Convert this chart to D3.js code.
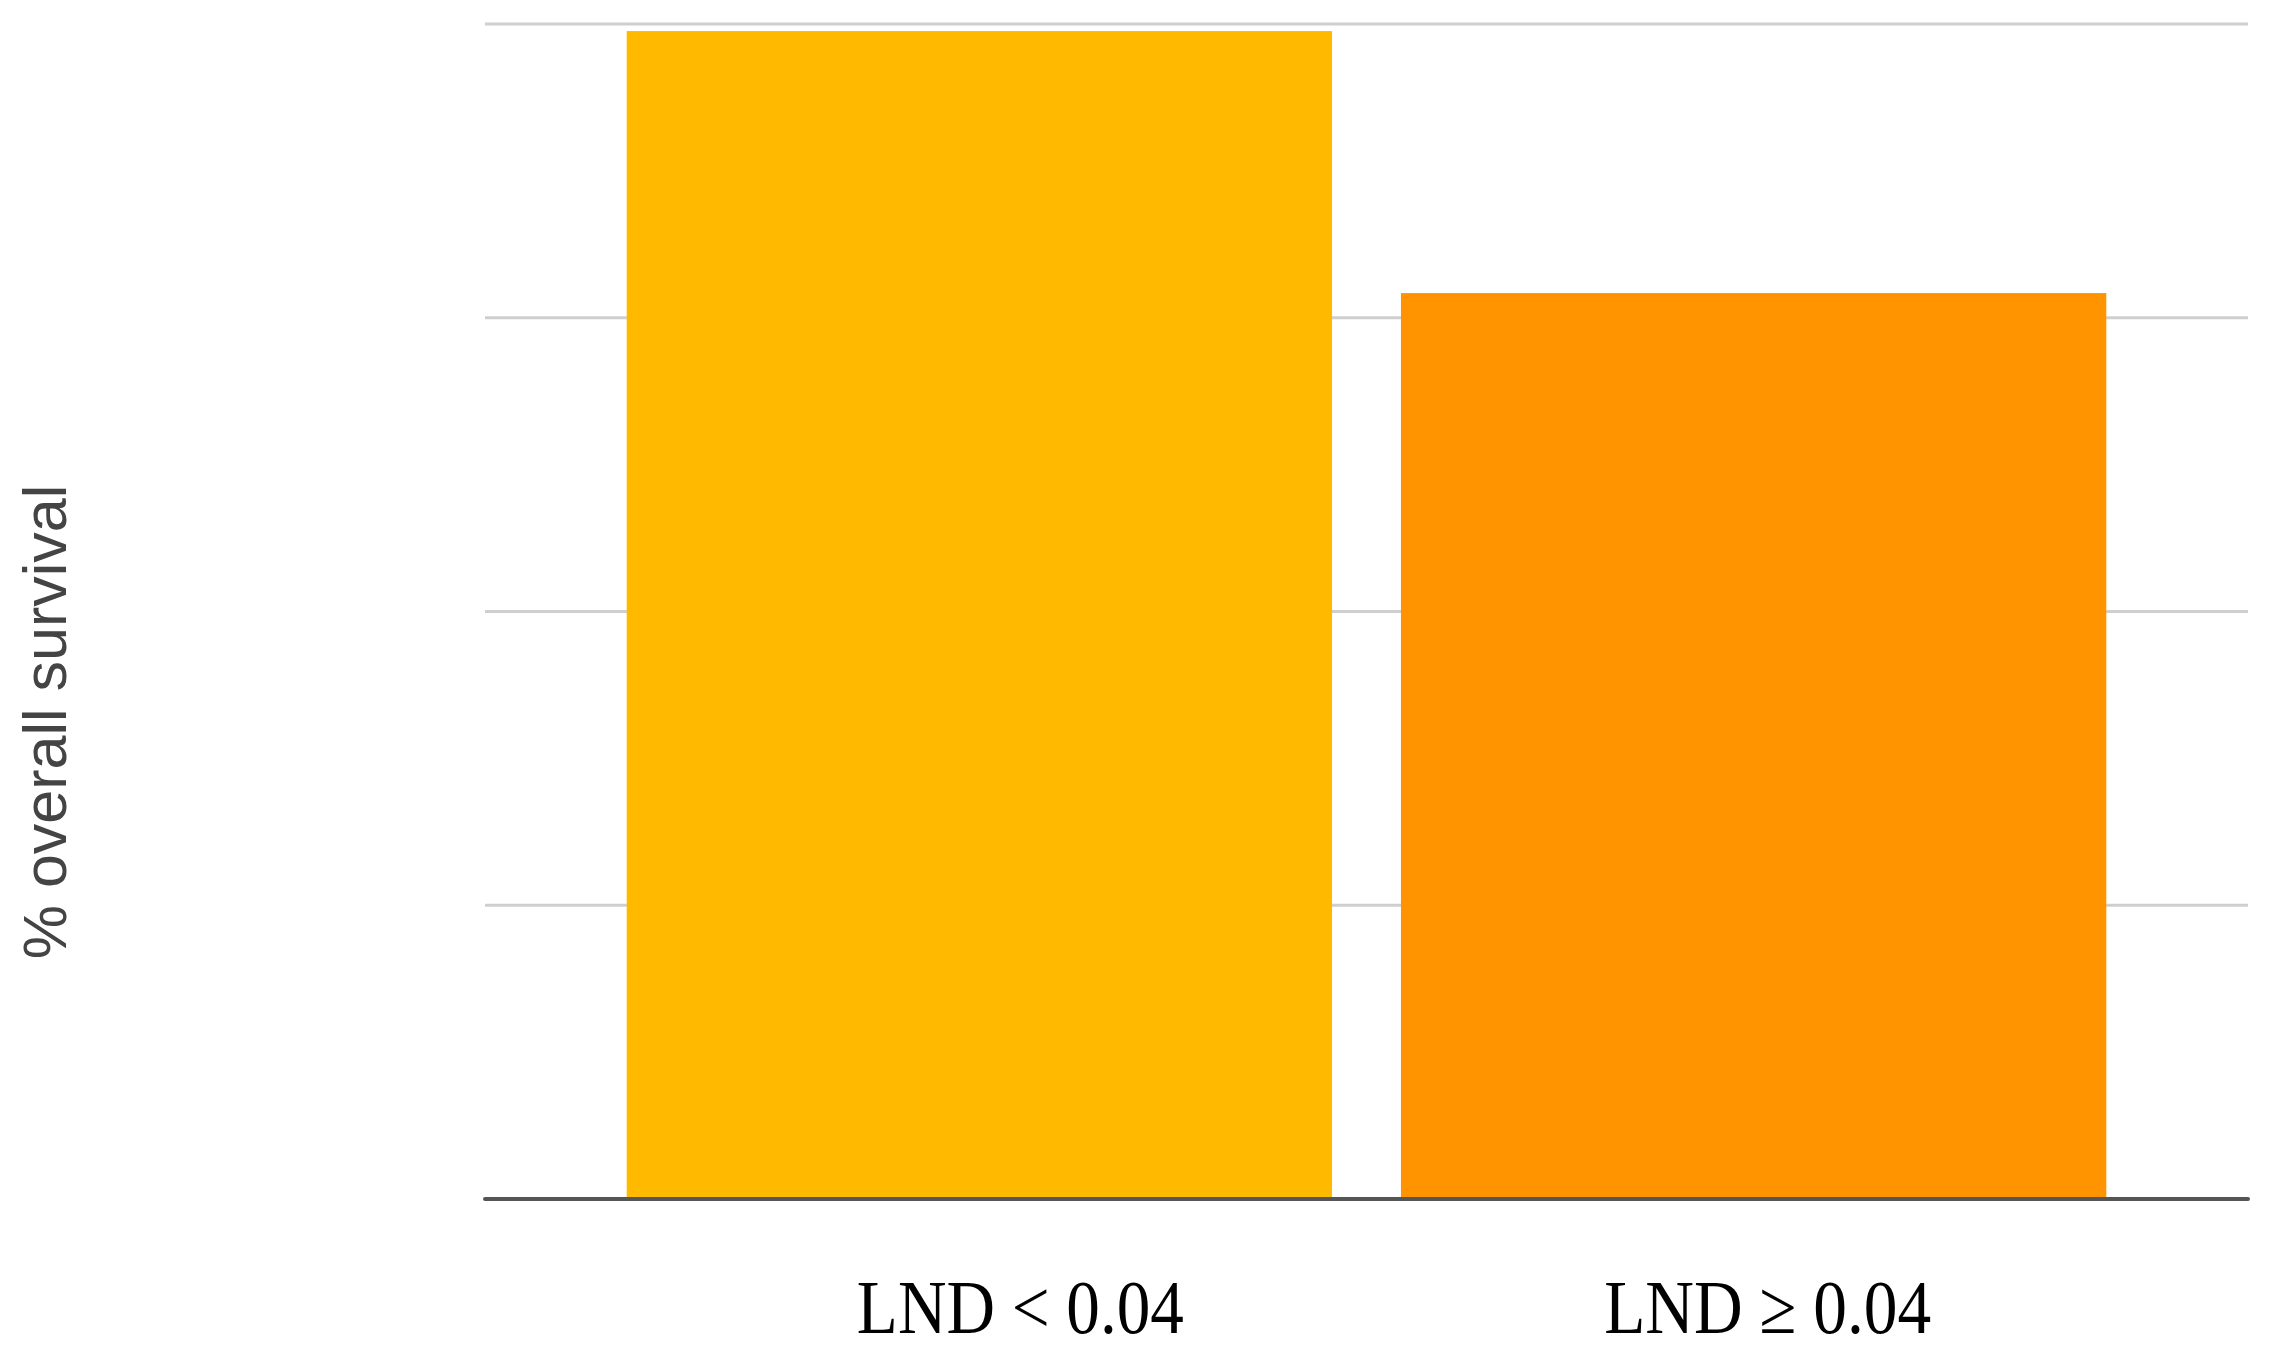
<!DOCTYPE html>
<html><head><meta charset="utf-8">
<script src="https://cdn.jsdelivr.net/npm/d3@7"></script>
<style>html,body{margin:0;padding:0;background:#fff;}</style>
</head><body>
<svg id="chart" width="2277" height="1350"></svg>
<script>
const categories = ["LND < 0.04", "LND \u2265 0.04"];
const values = [99.4, 77.1];
const yTicks = [0, 25, 50, 75, 100];
const barColors = ["#FFBA00", "#FF9400"];
const yTitle = "% overall survival";

const svg = d3.select("#chart");
const plotLeft = 485, plotRight = 2248, plotTop = 24, plotBottom = 1199;

const x = d3.scaleBand().domain(categories).range([plotLeft, plotRight])
  .paddingInner(0.089).paddingOuter(0.183);
const y = d3.scaleLinear().domain([0, 100]).range([plotBottom, plotTop]);

// gridlines
svg.append("g").selectAll("line").data(yTicks.filter(d => d > 0)).join("line")
  .attr("x1", plotLeft).attr("x2", plotRight)
  .attr("y1", d => y(d)).attr("y2", d => y(d))
  .attr("stroke", "#cfcfcf").attr("stroke-width", 3);

// bars
svg.append("g").selectAll("rect").data(categories).join("rect")
  .attr("x", d => x(d)).attr("width", x.bandwidth())
  .attr("y", (d, i) => y(values[i]))
  .attr("height", (d, i) => y(0) - y(values[i]))
  .attr("fill", (d, i) => barColors[i]);

// baseline
svg.append("line").attr("x1", plotLeft).attr("x2", plotRight)
  .attr("y1", y(0)).attr("y2", y(0))
  .attr("stroke", "#555").attr("stroke-width", 4).attr("stroke-linecap", "round");

// x labels
const labelDx = [41, 14];
svg.append("g").selectAll("text").data(categories).join("text")
  .attr("x", (d, i) => x(d) + x.bandwidth() / 2 + labelDx[i])
  .attr("y", 1333)
  .attr("text-anchor", "middle")
  .attr("font-family", "'Liberation Serif', 'Times New Roman', serif")
  .attr("font-size", 76)
  .attr("textLength", 327)
  .attr("lengthAdjust", "spacingAndGlyphs")
  .attr("fill", "#000")
  .text(d => d);

// y title
svg.append("text")
  .attr("transform", `translate(66, ${(486 + 958) / 2}) rotate(-90)`)
  .attr("text-anchor", "middle")
  .attr("font-family", "'Liberation Sans', Arial, sans-serif")
  .attr("font-size", 61)
  .attr("fill", "#444")
  .text(yTitle);
</script>
</body></html>
